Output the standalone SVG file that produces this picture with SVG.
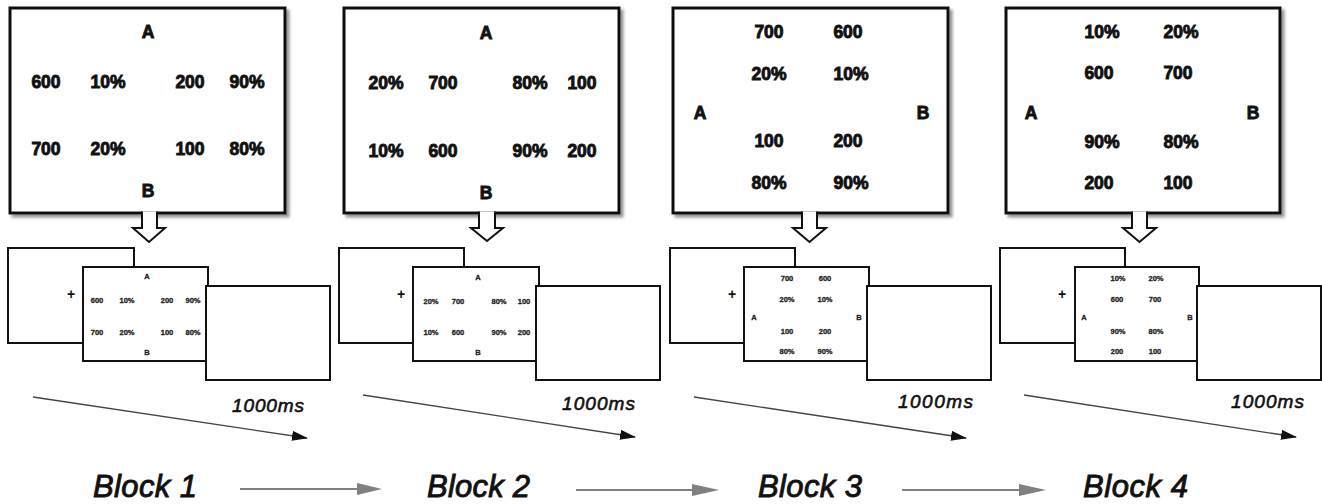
<svg xmlns="http://www.w3.org/2000/svg" width="1322" height="504" viewBox="0 0 1322 504">
<style>
.big{font-family:"Liberation Sans",Arial,sans-serif;font-weight:bold;font-size:17.5px;fill:#111;stroke:#111;stroke-width:0.9;text-anchor:middle;dominant-baseline:central}
.mini{font-family:"Liberation Sans",Arial,sans-serif;font-weight:bold;font-size:7.5px;fill:#222;stroke:#222;stroke-width:0.3;text-anchor:middle;dominant-baseline:central}
.plus{font-family:"Liberation Sans",Arial,sans-serif;font-weight:bold;font-size:14px;fill:#111;text-anchor:middle;dominant-baseline:central}
.ms{font-family:"Liberation Sans",Arial,sans-serif;font-style:italic;font-size:19px;fill:#111;stroke:#111;stroke-width:0.6}
.blk{font-family:"Liberation Sans",Arial,sans-serif;font-style:italic;font-size:31px;fill:#111;stroke:#111;stroke-width:0.9}
.box{fill:#fff;stroke:#111;stroke-width:3;filter:url(#sh)}
.scr{fill:#fff;stroke:#111;stroke-width:2}
.hollow{fill:#fff;stroke:#111;stroke-width:2;stroke-linejoin:miter}
.diag{stroke:#444;stroke-width:1.3;fill:none;marker-end:url(#bk)}
.gray{stroke:#808080;stroke-width:2;fill:none}
.grayhead{fill:#808080}
</style>
<defs>
<filter id="sh" x="-5%" y="-5%" width="115%" height="115%">
<feDropShadow dx="3" dy="3" stdDeviation="1.5" flood-color="#777" flood-opacity="0.8"/>
</filter>
<marker id="bk" markerUnits="userSpaceOnUse" markerWidth="16" markerHeight="10" refX="15" refY="5" orient="auto">
<path d="M0,0 L16,5 L0,10 Z" fill="#111"/>
</marker>
</defs>
<rect width="1322" height="504" fill="#fff"/>

<g id="panel1-box">
<rect class="box" x="10" y="8" width="275" height="205"/>
<text class="big" x="148" y="32">A</text>
<text class="big" x="46" y="82">600</text><text class="big" x="108" y="82">10%</text><text class="big" x="190" y="82">200</text><text class="big" x="247" y="82">90%</text>
<text class="big" x="46" y="149">700</text><text class="big" x="108" y="149">20%</text><text class="big" x="190" y="149">100</text><text class="big" x="247" y="149">80%</text>
<text class="big" x="148" y="191">B</text>
</g>
<g id="panel2-box">
<rect class="box" x="344" y="8" width="275" height="205"/>
<text class="big" x="486" y="33">A</text>
<text class="big" x="386" y="83">20%</text><text class="big" x="443" y="83">700</text><text class="big" x="530" y="83">80%</text><text class="big" x="582" y="83">100</text>
<text class="big" x="386" y="151">10%</text><text class="big" x="443" y="151">600</text><text class="big" x="530" y="151">90%</text><text class="big" x="582" y="151">200</text>
<text class="big" x="486" y="193">B</text>
</g>
<g id="panel3-box">
<rect class="box" x="673" y="8" width="275" height="205"/>
<text class="big" x="769" y="32">700</text><text class="big" x="848" y="32">600</text>
<text class="big" x="769" y="74">20%</text><text class="big" x="851" y="74">10%</text>
<text class="big" x="700" y="113">A</text><text class="big" x="923" y="113">B</text>
<text class="big" x="769" y="141">100</text><text class="big" x="848" y="141">200</text>
<text class="big" x="769" y="183">80%</text><text class="big" x="851" y="183">90%</text>
</g>
<g id="panel4-box">
<rect class="box" x="1006" y="8" width="274" height="205"/>
<text class="big" x="1102" y="32">10%</text><text class="big" x="1181" y="32">20%</text>
<text class="big" x="1099" y="73">600</text><text class="big" x="1178" y="73">700</text>
<text class="big" x="1031" y="113">A</text><text class="big" x="1253" y="113">B</text>
<text class="big" x="1102" y="142">90%</text><text class="big" x="1181" y="142">80%</text>
<text class="big" x="1099" y="183">200</text><text class="big" x="1178" y="183">100</text>
</g>

<g id="hollow-arrows">
<path class="hollow" d="M142,211.5 V228 H133 L149,242 L165,228 H157 V211.5"/>
<path class="hollow" d="M479,211.5 V228 H471 L487,241 L503,228 H495 V211.5"/>
<path class="hollow" d="M802,211.5 V228 H793 L809.5,242 L826,228 H817 V211.5"/>
<path class="hollow" d="M1132,211.5 V228 H1123 L1139.5,242 L1156,228 H1147 V211.5"/>
</g>

<g id="panel1-screens">
<rect class="scr" x="8" y="248" width="126" height="95"/>
<text class="plus" x="71" y="294">+</text>
<rect class="scr" x="83" y="267" width="125" height="94"/>
<text class="mini" x="147" y="276">A</text>
<text class="mini" x="97" y="300">600</text><text class="mini" x="127" y="300">10%</text><text class="mini" x="167" y="300">200</text><text class="mini" x="193" y="300">90%</text>
<text class="mini" x="97" y="332">700</text><text class="mini" x="127" y="332">20%</text><text class="mini" x="167" y="332">100</text><text class="mini" x="193" y="332">80%</text>
<text class="mini" x="147" y="352">B</text>
<rect class="scr" x="206" y="286" width="124" height="94"/>
</g>
<g id="panel2-screens">
<rect class="scr" x="339" y="248" width="125" height="95"/>
<text class="plus" x="401" y="294">+</text>
<rect class="scr" x="413" y="267" width="126" height="94"/>
<text class="mini" x="478" y="277">A</text>
<text class="mini" x="431" y="301">20%</text><text class="mini" x="458" y="301">700</text><text class="mini" x="499" y="301">80%</text><text class="mini" x="524" y="301">100</text>
<text class="mini" x="431" y="332">10%</text><text class="mini" x="458" y="332">600</text><text class="mini" x="499" y="332">90%</text><text class="mini" x="524" y="332">200</text>
<text class="mini" x="478" y="352">B</text>
<rect class="scr" x="536" y="286" width="124" height="94"/>
</g>
<g id="panel3-screens">
<rect class="scr" x="670" y="248" width="125" height="95"/>
<text class="plus" x="732" y="294">+</text>
<rect class="scr" x="744" y="267" width="125" height="94"/>
<text class="mini" x="787" y="278">700</text><text class="mini" x="825" y="278">600</text>
<text class="mini" x="787" y="299">20%</text><text class="mini" x="825" y="299">10%</text>
<text class="mini" x="754" y="317">A</text><text class="mini" x="859" y="317">B</text>
<text class="mini" x="787" y="331">100</text><text class="mini" x="825" y="331">200</text>
<text class="mini" x="787" y="351">80%</text><text class="mini" x="825" y="351">90%</text>
<rect class="scr" x="867" y="286" width="124" height="94"/>
</g>
<g id="panel4-screens">
<rect class="scr" x="1000" y="248" width="125" height="95"/>
<text class="plus" x="1062" y="294">+</text>
<rect class="scr" x="1075" y="267" width="124" height="94"/>
<text class="mini" x="1118" y="278">10%</text><text class="mini" x="1156" y="278">20%</text>
<text class="mini" x="1117" y="299">600</text><text class="mini" x="1155" y="299">700</text>
<text class="mini" x="1084" y="317">A</text><text class="mini" x="1190" y="317">B</text>
<text class="mini" x="1118" y="331">90%</text><text class="mini" x="1156" y="331">80%</text>
<text class="mini" x="1117" y="351">200</text><text class="mini" x="1155" y="351">100</text>
<rect class="scr" x="1197" y="286" width="124" height="94"/>
</g>

<g id="timing-labels">
<text class="ms" x="232" y="412" textLength="72">1000ms</text>
<text class="ms" x="562" y="410" textLength="73">1000ms</text>
<text class="ms" x="898" y="408" textLength="75">1000ms</text>
<text class="ms" x="1231" y="408" textLength="73">1000ms</text>
</g>

<g id="connectors">
<line class="diag" x1="33" y1="397" x2="307" y2="438"/>
<line class="diag" x1="363" y1="395" x2="635" y2="437"/>
<line class="diag" x1="694" y1="397" x2="966" y2="438"/>
<line class="diag" x1="1024" y1="395" x2="1296" y2="437"/>
<line class="gray" x1="240" y1="489" x2="360" y2="489"/>
<path class="grayhead" d="M357,483 L382,489 L357,495 Z"/>
<line class="gray" x1="576" y1="490" x2="695" y2="490"/>
<path class="grayhead" d="M692,484 L719,490 L692,496 Z"/>
<line class="gray" x1="902" y1="490" x2="1022" y2="490"/>
<path class="grayhead" d="M1019,484 L1046,490 L1019,496 Z"/>
</g>

<g id="block-labels">
<text class="blk" x="93" y="497" textLength="104">Block 1</text>
<text class="blk" x="427" y="497" textLength="103">Block 2</text>
<text class="blk" x="758" y="497" textLength="104">Block 3</text>
<text class="blk" x="1083" y="497" textLength="105">Block 4</text>
</g>
</svg>
